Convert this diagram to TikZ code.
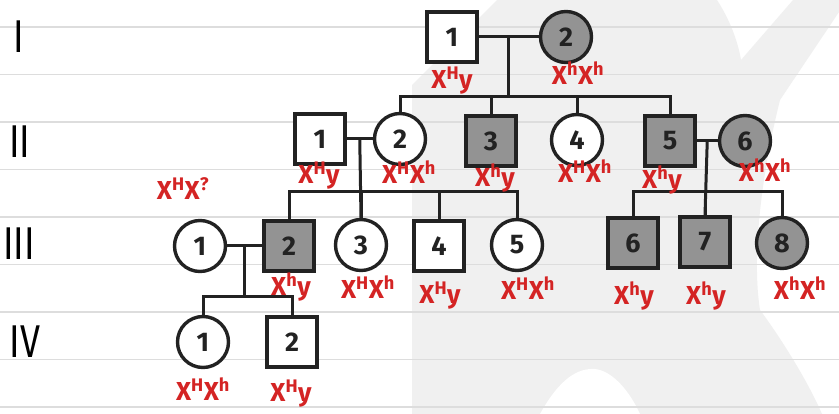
\documentclass[tikz,border=0pt]{standalone}
\usepackage{fontspec}
\usepackage{graphicx}
\setmainfont{Fira Sans}
\usetikzlibrary{calc}

\definecolor{pedline}{HTML}{222222}
\definecolor{shade}{HTML}{939393}
\definecolor{genored}{HTML}{D42424}
\definecolor{ruled}{HTML}{DDDDDD}
\definecolor{wmgray}{HTML}{F0F0F0}

\newcommand{\Xa}[1]{X\textsuperscript{#1}}
\newcommand{\genlabel}[1]{\scalebox{0.78}[1]{#1}}

\tikzset{
  person/.style={draw=pedline, line width=3.4pt, fill=white, inner sep=0pt,
    text=pedline, font=\fontsize{27}{27}\selectfont\bfseries},
  male/.style={person, rectangle, minimum size=50pt},
  female/.style={person, circle, minimum size=51pt},
  affected/.style={fill=shade},
  link/.style={draw=pedline, line width=3pt},
  geno/.style={text=genored, inner sep=0pt, font=\fontsize{26}{26}\selectfont\bfseries},
  gen/.style={text=black, inner sep=0pt, font=\fontsize{46}{46}\selectfont}
}

\begin{document}
\begin{tikzpicture}[x=1pt, y=-1pt]
  \useasboundingbox (0,0) rectangle (839,414);
  \fill[white] (0,0) rectangle (839,414);

  % faint watermark behind the chart
  \fill[wmgray] (412,414) -- (412,85) -- (497,0) -- (717,0)
    .. controls (730,20) and (738,42) .. (741,60) -- (793,0) -- (839,0) -- (839,12)
    -- (780,100) .. controls (760,180) and (752,260) .. (760,310)
    .. controls (775,330) and (805,375) .. (822,414) -- cycle;
  \fill[white] (540,414) .. controls (560,378) and (578,368) .. (595,369)
    .. controls (613,371) and (630,392) .. (640,414) -- cycle;

  % ruled paper
  \foreach \i in {0,...,8}
    \draw[ruled, line width=1.4pt] (0,{27+47.5*\i}) -- (839,{27+47.5*\i});

  % generations
  \node[gen] (genI) at (19,37) {\genlabel{I}};
  \node[gen] (genII) at (20,142) {\genlabel{II}};
  \node[gen] (genIII) at (19,244) {\genlabel{III}};
  \node[gen] (genIV) at (25,342) {\genlabel{IV}};

  % generation I
  \node[male] (I1) at (452,37) {1};
  \node[female, affected] (I2) at (566,37) {2};

  % generation II
  \node[male] (II1) at (320,139) {1};
  \node[female] (II2) at (400,139) {2};
  \node[male, affected] (II3) at (491,141) {3};
  \node[female] (II4) at (577,140) {4};
  \node[male, affected] (II5) at (670,141) {5};
  \node[female, affected] (II6) at (745,141) {6};

  % generation III
  \node[female] (III1) at (200,246) {1};
  \node[male, affected] (III2) at (289,246) {2};
  \node[female] (III3) at (361,245) {3};
  \node[male] (III4) at (439,246) {4};
  \node[female] (III5) at (517,245) {5};
  \node[male, affected] (III6) at (633,243) {6};
  \node[male, affected] (III7) at (705,242) {7};
  \node[female, affected] (III8) at (782,243) {8};

  % generation IV
  \node[female] (IV1) at (203,342) {1};
  \node[male] (IV2) at (292,342) {2};

  % matings and sibships
  \draw[link] (I1) -- (I2);
  \coordinate (m1) at ($(I1.east)!.5!(I2.west)$);
  \coordinate (s1) at ($(m1)+(0,60)$);
  \draw[link] (m1) -- (s1);
  \foreach \c in {II2,II3,II4,II5}
    \draw[link] (\c.north) |- (s1);

  \draw[link] (II1) -- (II2);
  \coordinate (m2) at ($(II1.east)!.5!(II2.west)$);
  \coordinate (s2) at ($(m2)+(0,53)$);
  \foreach \c in {III2,III3,III4,III5}
    \draw[link] (\c.north) |- (s2);
  \draw[link] (m2) -- (III3.north);

  \draw[link] (II5) -- (II6);
  \coordinate (m3) at ($(II5.east)!.5!(II6.west)$);
  \coordinate (s3) at ($(m3)+(0,51)$);
  \foreach \c in {III6,III7,III8}
    \draw[link] (\c.north) |- (s3);
  \draw[link] (m3) -- (III7.north);

  \draw[link] (III1) -- (III2);
  \coordinate (m4) at ($(III1.east)!.5!(III2.west)$);
  \coordinate (s4) at ($(m4)+(0,51)$);
  \draw[link] (m4) -- (s4);
  \foreach \c in {IV1,IV2}
    \draw[link] (\c.north) |- (s4);

  % genotypes
  \node[geno] (gI1) at (452,81) {\Xa{H}y};
  \node[geno] (gI2) at (578,73) {\Xa{h}\Xa{h}};
  \node[geno] (gII1) at (319,176) {\Xa{H}y};
  \node[geno] (gII2) at (409,172) {\Xa{H}\Xa{h}};
  \node[geno] (gII3) at (495,178) {\Xa{h}y};
  \node[geno] (gII4) at (585,171) {\Xa{H}\Xa{h}};
  \node[geno] (gII5) at (662,180) {\Xa{h}y};
  \node[geno] (gII6) at (765,170) {\Xa{h}\Xa{h}};
  \node[geno] (gIII1) at (183,189) {\Xa{H}\Xa{?}};
  \node[geno] (gIII2) at (291,287) {\Xa{h}y};
  \node[geno] (gIII3) at (368,287) {\Xa{H}\Xa{h}};
  \node[geno] (gIII4) at (440,296) {\Xa{H}y};
  \node[geno] (gIII5) at (528,288) {\Xa{H}\Xa{h}};
  \node[geno] (gIII6) at (634,296) {\Xa{h}y};
  \node[geno] (gIII7) at (706,296) {\Xa{h}y};
  \node[geno] (gIII8) at (800,288) {\Xa{h}\Xa{h}};
  \node[geno] (gIV1) at (203,389) {\Xa{H}\Xa{h}};
  \node[geno] (gIV2) at (291,394) {\Xa{H}y};
\end{tikzpicture}
\end{document}
